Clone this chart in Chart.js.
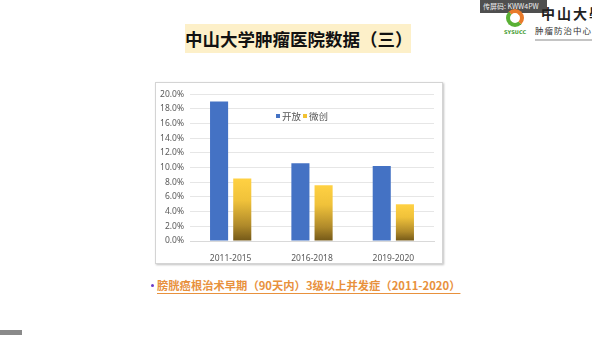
<!DOCTYPE html>
<html>
<head>
<meta charset="utf-8">
<script src="https://cdn.jsdelivr.net/npm/chart.js@4"></script>
<style>
  html, body { margin: 0; padding: 0; background: #fff; }
  body { width: 592px; height: 339px; position: relative; overflow: hidden; font-family: "Noto Sans CJK SC", "Noto Sans", sans-serif; }
  .title {
    position: absolute; left: 185px; top: 24px; width: 226px; height: 29px;
    background: #fdf0c9; color: #111; font-weight: bold; font-size: 17.5px;
    line-height: 29px; text-align: center; white-space: nowrap;
  }
  .chart-box {
    position: absolute; left: 155px; top: 82px; width: 286px; height: 180px;
    border: 1px solid #d4d4d4; box-shadow: 1px 1px 2px rgba(0,0,0,0.25); background: #fff;
  }
  .note {
    position: absolute; left: 157px; top: 277px; font-size: 11.3px; font-weight: bold;
    color: #e8913d; text-decoration: underline; text-underline-offset: 3px; white-space: nowrap;
  }
  .bullet { position: absolute; left: 151px; top: 284px; width: 3px; height: 3px; border-radius: 2px; background: #6a3cc8; }
  .share {
    position: absolute; left: 480px; top: 0; width: 64px; height: 13px; background: rgba(55,55,55,0.88);
    color: #eee; font-size: 7px; line-height: 13px; padding-left: 3px; white-space: nowrap;
  }
  .logo-swirl { position: absolute; left: 506px; top: 9px; width: 18px; height: 18px; border-radius: 9px;
    border: 4px solid #e87a2a; border-left-color: #5ab034; border-bottom-color: #5ab034; box-sizing: border-box; }
  .logo-abbr { position: absolute; left: 504px; top: 29px; font-size: 5px; color: #3e9a2c; font-weight: bold; white-space: nowrap; font-family: "DejaVu Sans", sans-serif; }
  .logo-big { position: absolute; left: 541px; top: 4px; font-size: 14px; line-height: 18px; font-weight: bold; color: #222; letter-spacing: 2px; white-space: nowrap; font-family: "Noto Sans CJK TC", sans-serif; }
  .logo-small { position: absolute; left: 535px; top: 25px; font-size: 8.5px; line-height: 11px; color: #333; letter-spacing: 1px; white-space: nowrap; }
  .logo-tiny { position: absolute; left: 535px; top: 39px; width: 57px; height: 2px; background: #c4c4c4; }
  .corner { position: absolute; left: 0; top: 330px; width: 22px; height: 5px; background: #8a8a8a; }
</style>
</head>
<body>
<div class="share">传屏码: KWW4PW</div>
<div class="logo-swirl"></div>
<div class="logo-abbr">SYSUCC</div>
<div class="logo-big">中山大學</div>
<div class="logo-small">肿瘤防治中心</div>
<div class="logo-tiny"></div>

<div class="title">中山大学肿瘤医院数据（三）</div>

<div class="chart-box"><canvas id="c" width="286" height="180"></canvas></div>

<div class="bullet"></div>
<div class="note">膀胱癌根治术早期（90天内）3级以上并发症（2011-2020）</div>
<div class="corner"></div>

<script>
// data
const categories = ['2011-2015', '2016-2018', '2019-2020'];
const openSurgery = [19.0, 10.6, 10.2];   // 开放
const minimallyInvasive = [8.5, 7.6, 5.0]; // 微创
const seriesNames = ['开放', '微创'];

const blue = '#4472c4';
const textColor = '#595959';

// yellow bars fade to dark brown at the bottom, one gradient per bar
function yellowFill(context) {
  const chart = context.chart;
  if (!chart.chartArea) return '#ffc832';
  const yScale = chart.scales.y;
  const top = yScale.getPixelForValue(context.raw);
  const bottom = yScale.getPixelForValue(0);
  const g = chart.ctx.createLinearGradient(0, top, 0, bottom);
  g.addColorStop(0, '#ffd143');
  g.addColorStop(0.35, '#f0c23a');
  g.addColorStop(0.75, '#b08a2a');
  g.addColorStop(1, '#735818');
  return g;
}

// legend sits inside the plot, drawn by hand
const innerLegend = {
  id: 'innerLegend',
  afterDraw(chart) {
    const ctx = chart.ctx;
    ctx.save();
    ctx.font = '9.5px "Noto Sans CJK SC", sans-serif';
    ctx.textBaseline = 'middle';
    let x = 120;
    const y = 33;
    const colors = [blue, '#f2c232'];
    seriesNames.forEach((name, i) => {
      ctx.fillStyle = colors[i];
      ctx.fillRect(x, y - 2, 4, 4);
      ctx.fillStyle = textColor;
      ctx.fillText(name, x + 6, y);
      x += 6 + ctx.measureText(name).width + 2;
    });
    ctx.restore();
  }
};

new Chart(document.getElementById('c').getContext('2d'), {
  type: 'bar',
  data: {
    labels: categories,
    datasets: [
      { label: seriesNames[0], data: openSurgery, backgroundColor: blue },
      { label: seriesNames[1], data: minimallyInvasive, backgroundColor: yellowFill }
    ]
  },
  options: {
    responsive: false,
    animation: false,
    devicePixelRatio: 1,
    layout: { padding: { top: 9, right: 8, left: 0, bottom: 0 } },
    datasets: { bar: { categoryPercentage: 0.57, barPercentage: 0.78 } },
    plugins: { legend: { display: false }, tooltip: { enabled: false } },
    scales: {
      x: {
        grid: { display: false },
        border: { color: '#d9d9d9' },
        ticks: { color: textColor, font: { size: 8.5, family: '"Noto Sans", sans-serif' }, padding: 4 },
        afterFit(scale) { scale.height = 22; }
      },
      y: {
        min: 0, max: 20,
        border: { display: false },
        grid: { color: '#e6e6e6', drawTicks: false },
        ticks: {
          stepSize: 2, color: textColor, padding: 6,
          font: { size: 8.5, family: '"Noto Sans", sans-serif' },
          callback: v => v.toFixed(1) + '%'
        },
        afterFit(scale) { scale.width = 34; }
      }
    }
  },
  plugins: [innerLegend]
});
</script>
</body>
</html>
